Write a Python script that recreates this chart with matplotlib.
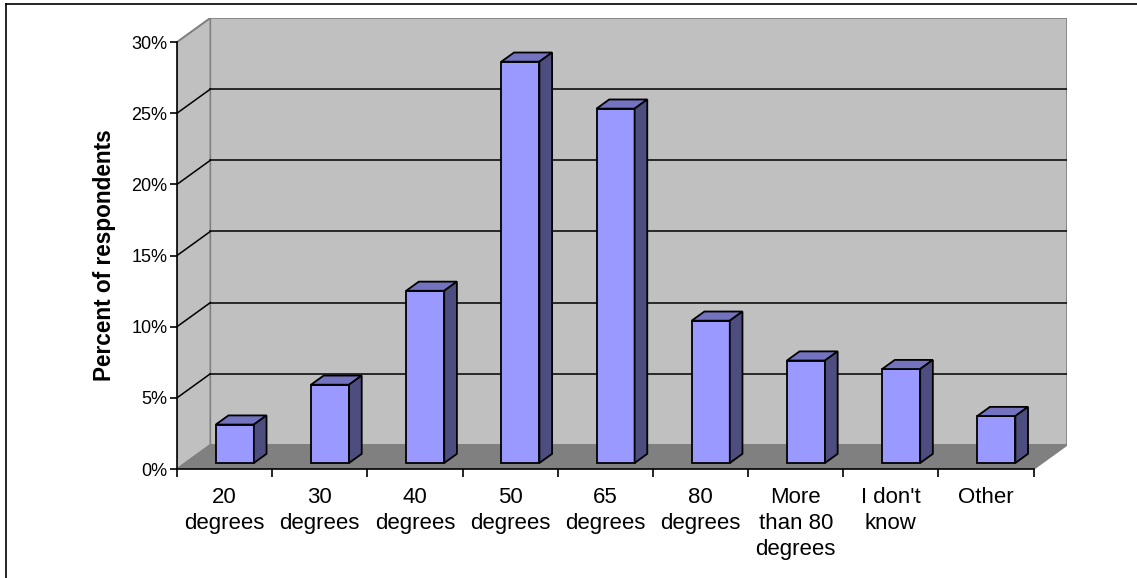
import numpy as np
import matplotlib.pyplot as plt
from matplotlib.patches import Polygon
from matplotlib.lines import Line2D

plt.rcParams['font.family'] = ['Liberation Sans', 'DejaVu Sans']

# data
categories = ['20\ndegrees', '30\ndegrees', '40\ndegrees', '50\ndegrees', '65\ndegrees',
              '80\ndegrees', 'More\nthan 80\ndegrees', "I don't\nknow", 'Other']
percent = [2.7, 5.5, 12.1, 28.2, 24.9, 10.0, 7.2, 6.6, 3.3]
yticks = [0, 5, 10, 15, 20, 25, 30]
yticklabels = ['0%', '5%', '10%', '15%', '20%', '25%', '30%']

# 3d look: offset of the back wall in data units
DX = 0.35   # categories
DY = 1.69   # percent
F0, F1 = 0.25, 0.63   # bar depth span (fraction of floor depth)
BAR_W = 0.4
BAR_A = 0.32

WALL = '#C0C0C0'
FLOOR = '#808080'
EDGE = '#808080'
FRONT = '#9999FF'
TOP = '#7373C0'
SIDE = '#4D4D80'

n = len(categories)
ymax = 30

fig = plt.figure(figsize=(11.37, 5.78), dpi=100)
ax = fig.add_axes([177 / 1137, (578 - 469) / 578, (1067 - 177) / 1137, (469 - 18) / 578])
ax.set_xlim(0, n + DX)
ax.set_ylim(0, ymax + DY)
ax.patch.set_visible(False)

# walls and floor
back = Polygon([(DX, DY), (n + DX, DY), (n + DX, ymax + DY), (DX, ymax + DY)],
               closed=True, facecolor=WALL, edgecolor=EDGE, lw=1.2, zorder=0)
side = Polygon([(0, 0), (DX, DY), (DX, ymax + DY), (0, ymax)],
               closed=True, facecolor=WALL, edgecolor=EDGE, lw=1.2, zorder=0)
floor = Polygon([(0, 0), (n, 0), (n + DX, DY), (DX, DY)],
                closed=True, facecolor=FLOOR, edgecolor=EDGE, lw=1.2, zorder=0.5)
for p in (back, side, floor):
    ax.add_patch(p)

# gridlines on back and side walls
for v in yticks[1:-1]:
    ax.plot([DX, n + DX], [v + DY, v + DY], color='black', lw=1.1, zorder=1)
    ax.plot([0, DX], [v, v + DY], color='black', lw=1.1, zorder=1)
ax.plot([0, DX], [ymax, ymax + DY], color=EDGE, lw=1.2, zorder=1)

# bars: front faces via ax.bar, top and side faces as polygons
x0 = np.arange(n) + BAR_A + F0 * DX
y0 = F0 * DY
bdx = (F1 - F0) * DX
bdy = (F1 - F0) * DY
ax.bar(x0, percent, width=BAR_W, bottom=y0, align='edge',
       color=FRONT, edgecolor='black', lw=1.3, zorder=3)
for xi, v in zip(x0, percent):
    top = Polygon([(xi, y0 + v), (xi + BAR_W, y0 + v),
                   (xi + BAR_W + bdx, y0 + v + bdy), (xi + bdx, y0 + v + bdy)],
                  closed=True, facecolor=TOP, edgecolor='black', lw=1.3, zorder=3)
    sd = Polygon([(xi + BAR_W, y0), (xi + BAR_W + bdx, y0 + bdy),
                  (xi + BAR_W + bdx, y0 + v + bdy), (xi + BAR_W, y0 + v)],
                 closed=True, facecolor=SIDE, edgecolor='black', lw=1.3, zorder=3)
    ax.add_patch(top)
    ax.add_patch(sd)

# axes
for s in ('top', 'right'):
    ax.spines[s].set_visible(False)
ax.spines['left'].set_bounds(0, ymax)
ax.spines['bottom'].set_bounds(0, n)
for s in ('left', 'bottom'):
    ax.spines[s].set_linewidth(1.2)
    ax.spines[s].set_zorder(4)

ax.set_yticks(yticks)
ax.set_yticklabels(yticklabels, fontsize=13)
ax.tick_params(axis='y', direction='out', length=5, width=1.2, pad=2)

ax.set_xticks(np.arange(n + 1))
ax.set_xticklabels([])
ax.set_xticks(np.arange(n) + 0.5, minor=True)
ax.set_xticklabels(categories, minor=True, fontsize=16, linespacing=1.3)
ax.tick_params(axis='x', which='major', direction='out', length=6, width=1.2)
ax.tick_params(axis='x', which='minor', length=0, pad=13)

ax.set_ylabel('Percent of respondents', fontsize=16.3, fontweight='bold')
# centre the label on the front value axis (0..30%)
ax.yaxis.set_label_coords(-0.068, (ymax / 2) / (ymax + DY))

# chart frame
fig.add_artist(Line2D([6 / 1137, 1.0], [1 - 4 / 578, 1 - 4 / 578], color='black', lw=1.2))
fig.add_artist(Line2D([6 / 1137, 6 / 1137], [0.0, 1 - 4 / 578], color='black', lw=1.2))

fig.savefig('out.png', dpi=100)
